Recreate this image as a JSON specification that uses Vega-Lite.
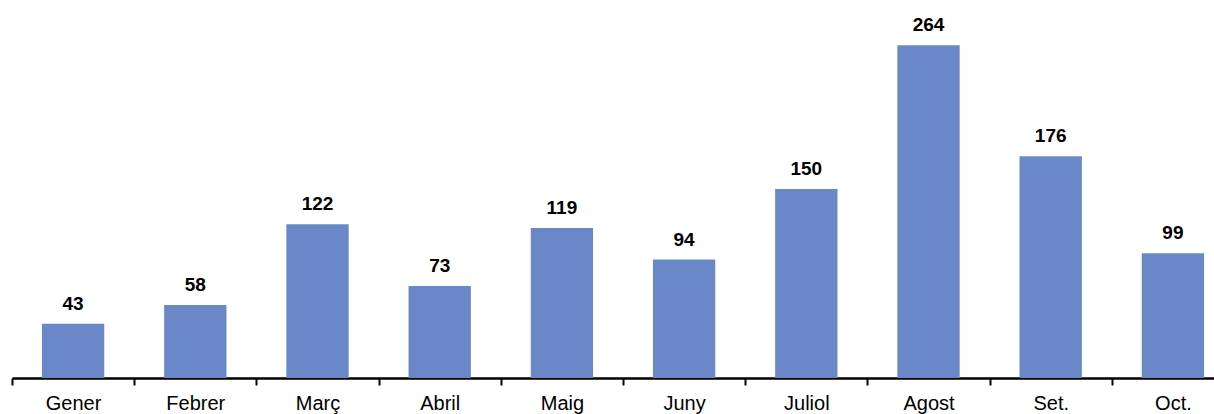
{
  "$schema": "https://vega.github.io/schema/vega-lite/v6.json",
  "width": 1222,
  "height": 378,
  "autosize": "none",
  "padding": {"left": 12, "top": 0, "right": 0, "bottom": 36},
  "background": "white",
  "config": {"view": {"stroke": null}, "font": "Liberation Sans"},
  "data": {"values": [
    {"mes": "Gener", "valor": 43},
    {"mes": "Febrer", "valor": 58},
    {"mes": "Març", "valor": 122},
    {"mes": "Abril", "valor": 73},
    {"mes": "Maig", "valor": 119},
    {"mes": "Juny", "valor": 94},
    {"mes": "Juliol", "valor": 150},
    {"mes": "Agost", "valor": 264},
    {"mes": "Set.", "valor": 176},
    {"mes": "Oct.", "valor": 99}
  ]},
  "encoding": {
    "x": {"field": "mes", "type": "nominal", "sort": null,
      "scale": {"paddingInner": 0, "paddingOuter": 0},
      "axis": {"title": null, "labelAngle": 0, "labelFont": "Liberation Sans", "labelFontSize": 20, "labelColor": "black",
        "domainColor": "black", "domainWidth": 2.5, "tickColor": "black", "tickWidth": 2, "tickSize": 7,
        "tickBand": "extent", "labelPadding": 8, "grid": false}},
    "y": {"field": "valor", "type": "quantitative", "scale": {"domain": [0, 300], "nice": false}, "axis": null}
  },
  "layer": [
    {"mark": {"type": "bar", "color": "#6a88c8", "width": {"band": 0.51}}},
    {"mark": {"type": "text", "baseline": "alphabetic", "dy": -14, "fontSize": 19, "fontWeight": "bold", "color": "black", "font": "Liberation Sans"},
     "encoding": {"text": {"field": "valor", "type": "quantitative"}}}
  ]
}
